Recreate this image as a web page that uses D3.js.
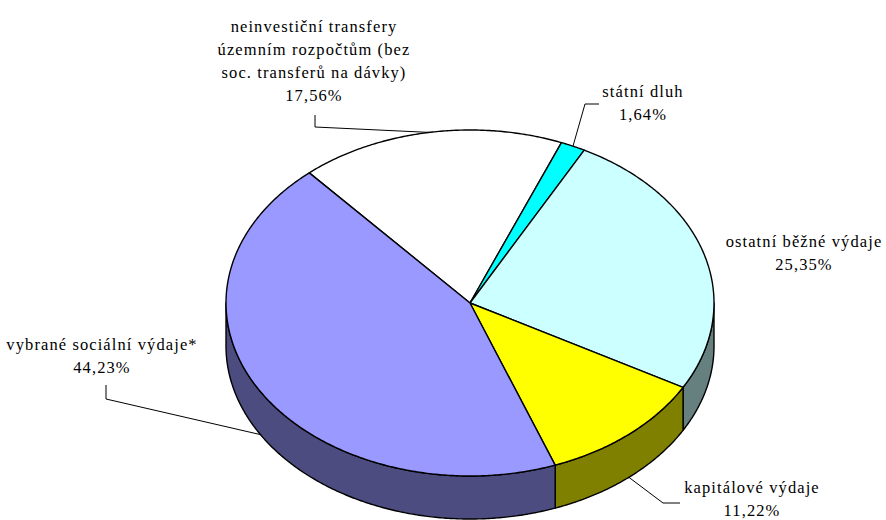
<!DOCTYPE html>
<html>
<head>
<meta charset="utf-8">
<script src="https://cdn.jsdelivr.net/npm/d3@7/dist/d3.min.js"></script>
<style>
  html, body { margin: 0; padding: 0; background: #fff; }
  svg { display: block; }
</style>
</head>
<body>
<svg id="chart" width="886" height="520"></svg>
<script>
// Struktura výdajů – podíly jednotlivých skupin (%)
const categories = [
  "neinvestiční transfery územním rozpočtům (bez soc. transferů na dávky)",
  "státní dluh",
  "ostatní běžné výdaje",
  "kapitálové výdaje",
  "vybrané sociální výdaje*"
];
const values = [17.56, 1.64, 25.35, 11.22, 44.23];
const valueLabels = ["17,56%", "1,64%", "25,35%", "11,22%", "44,23%"];
const labelLines = [
  ["neinvestiční transfery", "územním rozpočtům (bez", "soc. transferů na dávky)", "17,56%"],
  ["státní dluh", "1,64%"],
  ["ostatní běžné výdaje", "25,35%"],
  ["kapitálové výdaje", "11,22%"],
  ["vybrané sociální výdaje*", "44,23%"]
];
const topColors = ["#ffffff", "#00ffff", "#ccffff", "#ffff00", "#9999ff"];
const sideColors = ["#808080", "#008080", "#668080", "#808000", "#4c4c80"];

// Geometry of the tilted pie
const cx = 470, cy = 303, rx = 244, ry = 173, depth = 43;
const deg = Math.PI / 180;
const start = -41.2 * deg;

const svg = d3.select("#chart");

const pie = d3.pie().sort(null).value(d => d).startAngle(start).endAngle(start + 2 * Math.PI);
const arcs = pie(values);

// point on the projected rim (angle measured clockwise from 12 o'clock)
const px = a => cx + rx * Math.sin(a);
const py = a => cy - ry * Math.cos(a);

function rimPoints(a0, a1, dy) {
  const n = Math.max(2, Math.ceil(Math.abs(a1 - a0) / (0.5 * deg)));
  return d3.range(n + 1).map(i => {
    const a = a0 + (a1 - a0) * i / n;
    return [px(a), py(a) + dy];
  });
}

const line = d3.line();

// Side walls: only the front half of the rim (90°..270°) is visible
const sideG = svg.append("g");
arcs.forEach((d, i) => {
  let a0 = d.startAngle, a1 = d.endAngle;
  if (a0 < 0) { a0 += 2 * Math.PI; a1 += 2 * Math.PI; }
  const s = Math.max(a0, 90 * deg), e = Math.min(a1, 270 * deg);
  if (e <= s) return;
  const pts = rimPoints(s, e, 0).concat(rimPoints(e, s, depth));
  sideG.append("path")
    .attr("d", line(pts) + "Z")
    .attr("fill", sideColors[i])
    .attr("stroke", "#000")
    .attr("stroke-width", 1.4)
    .attr("stroke-linejoin", "round");
});

// Top faces
const topG = svg.append("g");
arcs.forEach((d, i) => {
  const pts = [[cx, cy]].concat(rimPoints(d.startAngle, d.endAngle, 0));
  topG.append("path")
    .attr("d", line(pts) + "Z")
    .attr("fill", topColors[i])
    .attr("stroke", "#000")
    .attr("stroke-width", 1.4)
    .attr("stroke-linejoin", "round");
});

// Label placement (text anchor centre x, first baseline y) and leader elbows
const labelPos = [
  { x: 314, y: 32, lead: [[315, 115], [315, 127]], bottom: false },
  { x: 643, y: 97, lead: [[599, 104], [585, 104]], bottom: false },
  { x: 804, y: 247, lead: null },
  { x: 752, y: 493, lead: [[680, 503], [663, 503]], bottom: true },
  { x: 102, y: 350, lead: [[106, 385], [106, 399]], bottom: true }
];
const lineH = 23;

const labG = svg.append("g")
  .attr("font-family", "'Liberation Serif', Tinos, 'Times New Roman', 'DejaVu Serif', serif")
  .attr("font-size", 16.5)
  .attr("letter-spacing", 1.1)
  .attr("fill", "#000");
arcs.forEach((d, i) => {
  const p = labelPos[i];
  const t = labG.append("text").attr("text-anchor", "middle");
  labelLines[i].forEach((s, k) => {
    t.append("tspan").attr("x", p.x).attr("y", p.y + k * lineH).text(s);
  });
  if (p.lead) {
    const mid = (d.startAngle + d.endAngle) / 2;
    const end = [px(mid), py(mid) + (p.bottom ? depth : 0)];
    labG.append("path")
      .attr("d", line(p.lead.concat([end])))
      .attr("fill", "none")
      .attr("stroke", "#000")
      .attr("stroke-width", 1);
  }
});
</script>
</body>
</html>
